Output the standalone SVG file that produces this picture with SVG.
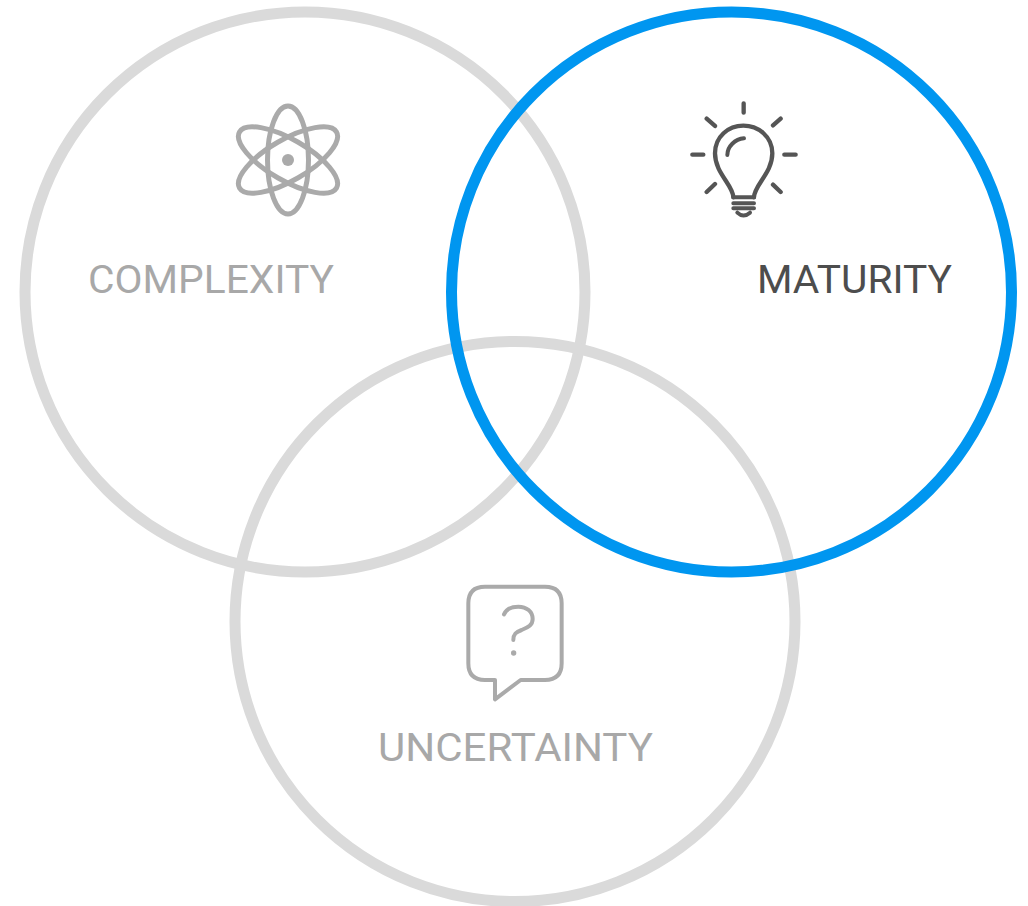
<svg xmlns="http://www.w3.org/2000/svg" width="1028" height="906" viewBox="0 0 1028 906">
<style>
.ring{fill:none;stroke-width:11}
.gray{stroke:#dadada}
.blue{stroke:#0096f0}
.icon{fill:none;stroke-linecap:round;stroke-linejoin:round}
.lbl{font-family:"Roboto","Liberation Sans",sans-serif;font-weight:400;font-size:39px;fill:#a8a8a8}
</style>
<rect width="1028" height="906" fill="#fff"/>
<g id="complexity">
<circle class="ring gray" cx="305" cy="292" r="280"/>
<g class="icon" stroke="#aaa" stroke-width="5">
<ellipse cx="288" cy="160" rx="20.5" ry="54"/>
<ellipse cx="288" cy="160" rx="20.5" ry="56" transform="rotate(60 288 160)"/>
<ellipse cx="288" cy="160" rx="20.5" ry="56" transform="rotate(-60 288 160)"/>
<circle cx="288" cy="160" r="6" fill="#aaa" stroke="none"/>
</g>
<text class="lbl" x="88" y="293" textLength="246" lengthAdjust="spacingAndGlyphs">COMPLEXITY</text>
</g>
<g id="uncertainty">
<circle class="ring gray" cx="515" cy="621.5" r="280"/>
<g class="icon" stroke="#aaa" transform="translate(450 570) scale(.3333)">
<path stroke-width="12" d="M105 50H285Q335 50 335 100V280Q335 330 285 330H212L135 388V330H105Q55 330 55 280V100Q55 50 105 50Z"/>
<path stroke-width="12" d="M162 133C170 115 185 110 205 110C230 110 248 125 248 147C248 165 235 172 215 180C198 186 190 192 190 210"/>
<circle cx="191" cy="249" r="5" fill="#aaa" stroke-width="6"/>
</g>
<text class="lbl" x="378" y="761" textLength="275" lengthAdjust="spacingAndGlyphs">UNCERTAINTY</text>
</g>
<g id="maturity">
<circle class="ring blue" cx="731.5" cy="292" r="280"/>
<g class="icon" stroke="#555" transform="translate(680 90) scale(.3333)">
<path stroke-width="13" d="M160 322C160 285 105 250 105 190C105 140 145 107 190 107C235 107 277 140 277 190C277 250 222 285 222 322"/>
<path stroke-width="12" d="M142 195C142 170 165 147 192 145"/>
<path stroke-width="13" d="M191 40V68M37 194H70M313 194H347M80 86L105 108M302 86L279 106M80 306L105 282M302 306L279 284"/>
<path stroke-width="12" d="M160 322H222M160 340H222M160 355H222M172 368Q190 385 210 368"/>
</g>
<text class="lbl" style="fill:#4d4d4d" x="757" y="293" textLength="195" lengthAdjust="spacingAndGlyphs">MATURITY</text>
</g>
</svg>
